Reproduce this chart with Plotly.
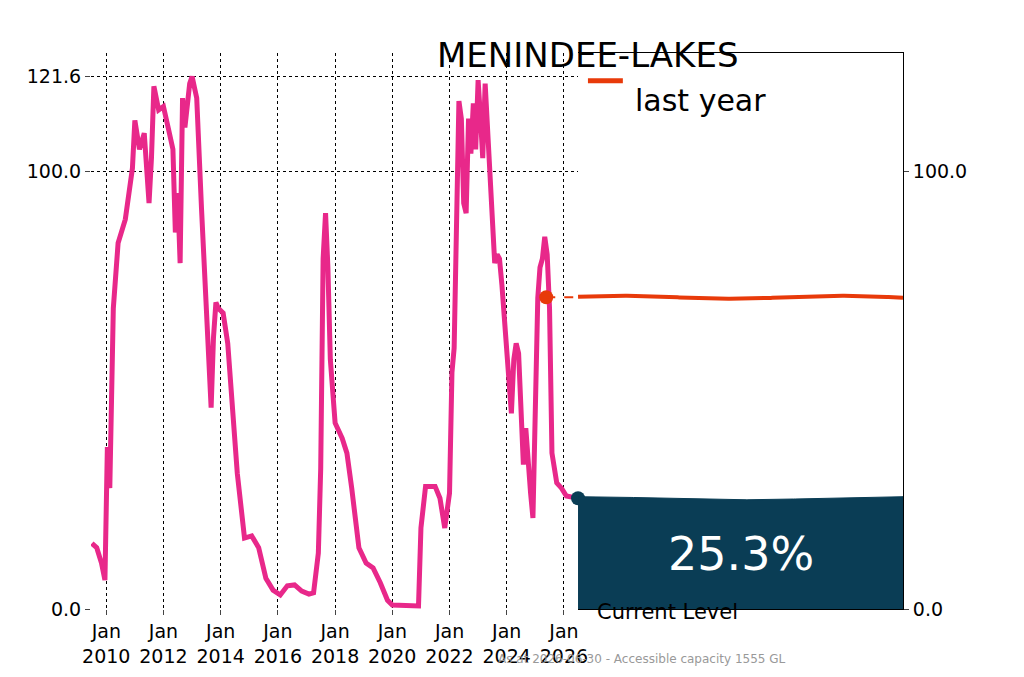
import numpy as np
import plotly.graph_objects as go

# storage level history (% of accessible capacity)
dates = [
    "2009-07-01", "2009-09-01", "2009-11-01", "2009-12-15", "2010-01-15", "2010-02-15", "2010-04-01",
    "2010-06-01", "2010-09-01", "2010-12-01", "2011-01-01", "2011-03-01", "2011-05-01", "2011-07-01",
    "2011-08-01", "2011-09-01", "2011-11-01", "2012-01-01", "2012-03-01", "2012-05-01", "2012-06-01",
    "2012-07-01", "2012-08-01", "2012-09-01", "2012-10-01", "2012-12-01", "2013-01-01", "2013-03-01",
    "2013-05-01", "2013-07-01", "2013-09-01", "2013-10-01", "2013-11-01", "2013-12-01", "2014-02-01",
    "2014-04-01", "2014-06-01", "2014-08-01", "2014-11-01", "2015-02-01", "2015-05-01", "2015-08-01",
    "2015-11-01", "2016-02-01", "2016-05-01", "2016-08-01", "2016-11-01", "2017-02-01", "2017-04-01",
    "2017-06-01", "2017-07-01", "2017-08-01", "2017-09-01", "2017-10-01", "2017-11-01", "2018-01-01",
    "2018-04-01", "2018-06-01", "2018-08-01", "2018-11-01", "2019-02-01", "2019-05-01", "2019-08-01",
    "2019-11-01", "2020-01-01", "2020-06-01", "2020-12-01", "2021-01-01", "2021-03-01", "2021-05-01",
    "2021-07-01", "2021-09-01", "2021-11-01", "2022-01-01", "2022-02-01", "2022-03-01", "2022-04-01",
    "2022-05-01", "2022-06-01", "2022-07-01", "2022-08-01", "2022-09-01", "2022-10-01", "2022-11-01",
    "2022-12-01", "2023-01-01", "2023-02-01", "2023-03-01", "2023-04-01", "2023-05-01", "2023-06-01",
    "2023-07-01", "2023-08-01", "2023-09-01", "2023-10-01", "2023-11-01", "2023-12-01", "2024-01-01",
    "2024-02-01", "2024-03-01", "2024-04-01", "2024-05-01", "2024-06-01", "2024-07-01", "2024-08-01",
    "2024-09-01", "2024-10-01", "2024-11-01", "2024-12-01", "2025-01-01", "2025-02-01", "2025-03-01",
    "2025-04-01", "2025-05-01", "2025-06-01", "2025-07-01", "2025-08-01", "2025-10-01", "2025-12-01",
    "2026-02-01", "2026-06-30",
]
levels = [
    15, 14, 10.5, 6.6, 37, 27.6, 68.7,
    83.6, 89, 100.7, 111.6, 105, 108.7, 92.7,
    103, 119.4, 114, 114.8, 110, 105, 86,
    95, 79, 116.7, 110, 120, 121.6, 116.7,
    91.5, 66, 46, 62, 70, 68.7, 67.6,
    60.7, 46, 31, 16.2, 16.7, 14, 7,
    4.3, 3.2, 5.3, 5.5, 4.1, 3.4, 3.7,
    12.8, 32, 80, 90.4, 78, 57, 42.5,
    39, 35.6, 27.6, 14, 10.5, 9.4, 6,
    2, 0.9, 0.7, 0.7, 18.5, 28, 28,
    28, 25.3, 18.5, 26.5, 54, 59.6, 91.5,
    116, 112, 92.7, 90.4, 112, 104, 115.5,
    105, 120.8, 112, 103, 120, 110, 99.5,
    87, 79, 81, 80, 74, 66.4, 59.6,
    50.5, 44.7, 57, 60.7, 58.4, 43.6, 33,
    41.3, 32, 26.5, 20.8, 45.9, 71, 78,
    80, 85, 81, 68.7, 35.6, 28.8, 27.6,
    25.8, 25.3,
]
current_level = 25.3
last_year_date = "2025-05-20"
last_year_level = 71.2
tick_dates = ["2010-01-01", "2012-01-01", "2014-01-01", "2016-01-01", "2018-01-01",
              "2020-01-01", "2022-01-01", "2024-01-01", "2026-01-01"]
tick_text = [f"Jan<br>{d[:4]}" for d in tick_dates]

PINK = "#e8288a"
ORANGE = "#e83a0a"
NAVY = "#0a3d55"
FONT = "DejaVu Sans"
YMAX = 127

fig = go.Figure()

fig.add_trace(go.Scatter(x=dates, y=levels, mode="lines", line=dict(color=PINK, width=5),
                         xaxis="x", yaxis="y", showlegend=False))
fig.add_trace(go.Scatter(x=[last_year_date], y=[last_year_level], mode="markers",
                         marker=dict(color=ORANGE, size=14), xaxis="x", yaxis="y", showlegend=False))
fig.add_trace(go.Scatter(x=[dates[-1]], y=[current_level], mode="markers",
                         marker=dict(color=NAVY, size=14), xaxis="x", yaxis="y", showlegend=False,
                         cliponaxis=False))

# right panel: wavy water level and last-year line
wx = np.linspace(0, 1, 200)
water_top = current_level + 0.35 * np.cos(wx * 2 * np.pi)
fig.add_trace(go.Scatter(x=np.concatenate([[0], wx, [1]]), y=np.concatenate([[0], water_top, [0]]),
                         fill="toself", fillcolor=NAVY, line=dict(color=NAVY, width=1),
                         mode="lines", xaxis="x2", yaxis="y2", showlegend=False))
fig.add_trace(go.Scatter(x=wx, y=last_year_level + 0.35 * np.sin(wx * 2 * np.pi * 1.5 + 0.3),
                         mode="lines", line=dict(color=ORANGE, width=4),
                         xaxis="x2", yaxis="y2", showlegend=False))
fig.add_shape(type="line", xref="x", yref="y", x0=last_year_date, x1="2026-06-30",
              y0=last_year_level, y1=last_year_level, line=dict(color=ORANGE, width=2, dash="dash"))

axis_font = dict(family=FONT, size=19, color="black")
fig.update_layout(
    width=1024, height=677, margin=dict(l=83, r=129, t=45, b=76),
    plot_bgcolor="white", paper_bgcolor="white", font=dict(family=FONT),
    xaxis=dict(domain=[0, 0.5998], range=["2009-06-20", "2026-06-30"], type="date",
               tickvals=tick_dates, ticktext=tick_text, tickfont=axis_font, automargin=False,
               showgrid=True, gridcolor="black", griddash="dot", gridwidth=1,
               ticks="outside", ticklen=5, showline=False, zeroline=False),
    yaxis=dict(domain=[0, 1], range=[0, YMAX], tickvals=[0, 100, 121.6], automargin=False,
               ticktext=["0.0", "100.0", "121.6"], tickfont=axis_font,
               showgrid=True, gridcolor="black", griddash="dot", gridwidth=1,
               ticks="outside", ticklen=5, zeroline=False, showline=False),
    xaxis2=dict(domain=[0.5998, 1], range=[0, 1], showticklabels=False, showgrid=False,
                automargin=False, zeroline=False, showline=True, linecolor="black",
                mirror=True, ticks=""),
    yaxis2=dict(domain=[0, 1], range=[0, YMAX], anchor="x2", side="right", automargin=False,
                tickvals=[0, 100], ticktext=["0.0", "100.0"], tickfont=axis_font,
                showgrid=False, zeroline=False, showline=True, linecolor="black",
                ticks="outside", ticklen=5),
)

fig.add_annotation(text="MENINDEE-LAKES", xref="paper", yref="paper", x=0.799, y=1.036,
                   showarrow=False, font=dict(family=FONT, size=34, color="black"))
fig.add_annotation(text="<b>71.2</b>", xref="x2", yref="y2", x=1.03, y=last_year_level,
                   xanchor="left", showarrow=False, font=dict(family=FONT, size=40, color=ORANGE))
fig.add_annotation(text="25.3%", xref="x2", yref="y2", x=0.5, y=current_level / 2,
                   showarrow=False, font=dict(family=FONT, size=46, color="white"))
fig.add_annotation(text="Current Level", xref="paper", yref="paper", x=0.799, y=-0.03,
                   showarrow=False, font=dict(family=FONT, size=21, color="black"))
fig.add_annotation(text="As at 2026-06-30 - Accessible capacity 1555 GL", xref="paper", yref="paper",
                   x=0.858, y=-0.106, showarrow=False, font=dict(family=FONT, size=12, color="#999999"))
# legend entry
fig.add_shape(type="line", xref="paper", yref="paper", x0=0.612, x1=0.655, y0=0.95, y1=0.95,
              line=dict(color=ORANGE, width=5))
fig.add_annotation(text="last year", xref="paper", yref="paper", x=0.667, y=0.95, xanchor="left",
                   showarrow=False, font=dict(family=FONT, size=30, color="black"))

fig.write_html("out.html")
